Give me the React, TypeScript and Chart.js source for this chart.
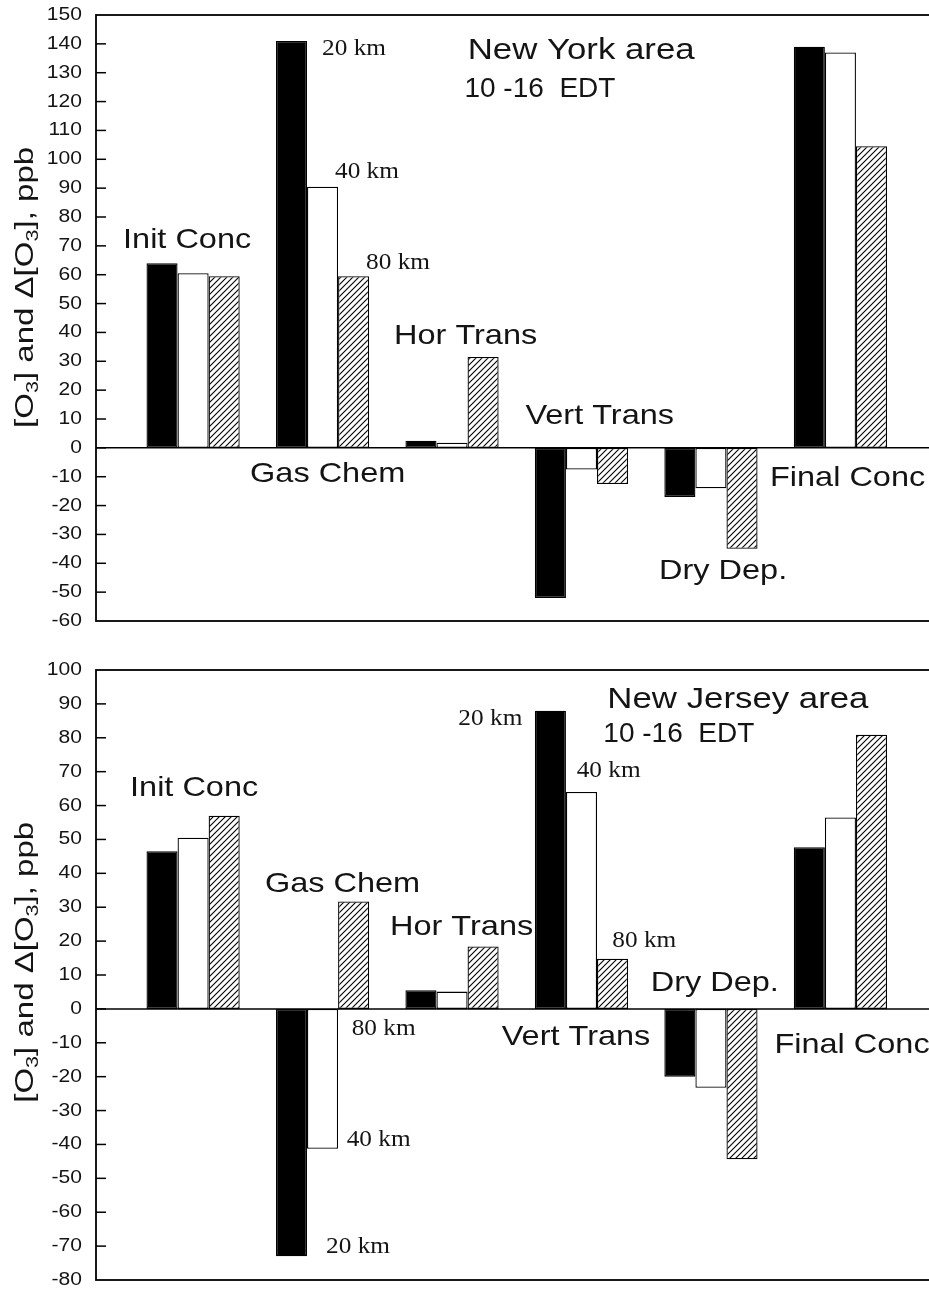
import React, { useEffect, useRef } from 'react';
import { Chart, registerables } from 'chart.js';

Chart.register(...registerables);

// ---------------- data ----------------
const categories = ['Init Conc', 'Gas Chem', 'Hor Trans', 'Vert Trans', 'Dry Dep.', 'Final Conc'];
const seriesNames = ['20 km', '40 km', '80 km'];

// New York area, 10-16 EDT (ppb)
const nyKm20 = [64, 141, 2.5, -52, -17, 139];
const nyKm40 = [60.5, 90.5, 1.8, -7.5, -14, 137];
const nyKm80 = [59.5, 59.5, 31.5, -12.5, -35, 104.5];

// New Jersey area, 10-16 EDT (ppb)
const njKm20 = [46.5, -73, 5.5, 88, -20, 47.7];
const njKm40 = [50.5, -41.3, 5.1, 64, -23.3, 56.5];
const njKm80 = [57, 31.7, 18.4, 14.8, -44.4, 80.9];

const nyTicks = [-60, -50, -40, -30, -20, -10, 0, 10, 20, 30, 40, 50, 60, 70, 80, 90, 100, 110, 120, 130, 140, 150];
const njTicks = [-80, -70, -60, -50, -40, -30, -20, -10, 0, 10, 20, 30, 40, 50, 60, 70, 80, 90, 100];

const nyTitle = ['New York area', '10 -16  EDT'];
const njTitle = ['New Jersey area', '10 -16  EDT'];

// ---------------- layout / annotation placement (in data units) ----------------
type Label = { text: string; x: number; y: number; kind: 'cat' | 'title' | 'sub' | 'km' };

const nyLabels: Label[] = [
  { text: categories[0], x: 0.459, y: 69.3, kind: 'cat' },
  { text: categories[1], x: 1.44, y: -11.7, kind: 'cat' },
  { text: categories[2], x: 2.552, y: 36.0, kind: 'cat' },
  { text: categories[3], x: 3.567, y: 8.3, kind: 'cat' },
  { text: categories[4], x: 4.599, y: -45.5, kind: 'cat' },
  { text: categories[5], x: 5.456, y: -13.2, kind: 'cat' },
  { text: nyTitle[0], x: 3.121, y: 134.7, kind: 'title' },
  { text: nyTitle[1], x: 3.096, y: 121.5, kind: 'sub' },
  { text: seriesNames[0], x: 1.996, y: 136.2, kind: 'km' },
  { text: seriesNames[1], x: 2.096, y: 93.5, kind: 'km' },
  { text: seriesNames[2], x: 2.336, y: 61.9, kind: 'km' },
];

const njLabels: Label[] = [
  { text: categories[0], x: 0.513, y: 62.9, kind: 'cat' },
  { text: categories[1], x: 1.555, y: 34.6, kind: 'cat' },
  { text: categories[2], x: 2.521, y: 21.8, kind: 'cat' },
  { text: categories[3], x: 3.384, y: -10.6, kind: 'cat' },
  { text: categories[4], x: 4.535, y: 5.3, kind: 'cat' },
  { text: categories[5], x: 5.49, y: -12.9, kind: 'cat' },
  { text: njTitle[0], x: 4.2, y: 88.7, kind: 'title' },
  { text: njTitle[1], x: 4.169, y: 78.9, kind: 'sub' },
  { text: seriesNames[0], x: 3.049, y: 83.8, kind: 'km' },
  { text: seriesNames[1], x: 3.963, y: 68.4, kind: 'km' },
  { text: seriesNames[2], x: 4.238, y: 18.4, kind: 'km' },
  { text: seriesNames[2], x: 2.225, y: -7.7, kind: 'km' },
  { text: seriesNames[1], x: 2.186, y: -40.6, kind: 'km' },
  { text: seriesNames[0], x: 2.027, y: -71.9, kind: 'km' },
];

const SANS = '"Liberation Sans", Arial, Helvetica, sans-serif';
const SERIF = '"Liberation Serif", "Times New Roman", serif';
const TEXT = '#141414';

const labelStyle: Record<string, { font: string; sx: number }> = {
  cat: { font: `28px ${SANS}`, sx: 1.16 },
  title: { font: `30px ${SANS}`, sx: 1.16 },
  sub: { font: `28px ${SANS}`, sx: 1.0 },
  km: { font: `23px ${SERIF}`, sx: 1.1 },
};

function drawText(ctx: CanvasRenderingContext2D, text: string, x: number, y: number, font: string, sx: number, align: CanvasTextAlign = 'left', baseline: CanvasTextBaseline = 'alphabetic') {
  ctx.save();
  ctx.font = font;
  ctx.fillStyle = TEXT;
  ctx.textAlign = align;
  ctx.textBaseline = baseline;
  ctx.translate(x, y);
  ctx.scale(sx, 1);
  ctx.fillText(text, 0, 0);
  ctx.restore();
}

function drawYTitle(ctx: CanvasRenderingContext2D, baseX: number, startY: number, endY: number) {
  const size = 26;
  const parts: [string, boolean][] = [['[O', false], ['3', true], ['] and \u0394[O', false], ['3', true], ['], ppb', false]];
  const nf = `${size}px ${SANS}`;
  const sf = `${Math.round(size * 0.64)}px ${SANS}`;
  let total = 0;
  const widths = parts.map(([t, sub]) => {
    ctx.font = sub ? sf : nf;
    const w = ctx.measureText(t).width;
    total += w;
    return w;
  });
  const sx = (startY - endY) / total;
  ctx.save();
  ctx.fillStyle = TEXT;
  ctx.textAlign = 'left';
  ctx.textBaseline = 'alphabetic';
  ctx.translate(baseX, startY);
  ctx.rotate(-Math.PI / 2);
  ctx.scale(sx, 1);
  let x = 0;
  parts.forEach(([t, sub], i) => {
    ctx.font = sub ? sf : nf;
    ctx.fillText(t, x, sub ? size * 0.2 : 0);
    x += widths[i];
  });
  ctx.restore();
}

type Panel = {
  series: number[][];
  ticks: number[];
  padTop: number;
  padBottom: number;
  height: number;
  labels: Label[];
  titleFrom: number;
  titleTo: number;
};

const nyPanel: Panel = { series: [nyKm20, nyKm40, nyKm80], ticks: nyTicks, padTop: 15, padBottom: 19, height: 640, labels: nyLabels, titleFrom: 6.9, titleTo: 104.3 };
const njPanel: Panel = { series: [njKm20, njKm40, njKm80], ticks: njTicks, padTop: 30, padBottom: 11, height: 651, labels: njLabels, titleFrom: -27.7, titleTo: 55.2 };

const CANVAS_W = 960;

function makeHatch(ctx: CanvasRenderingContext2D): CanvasPattern | string {
  const tile = document.createElement('canvas');
  tile.width = 6;
  tile.height = 6;
  const t = tile.getContext('2d');
  if (!t) return '#888';
  t.fillStyle = '#fff';
  t.fillRect(0, 0, 6, 6);
  t.strokeStyle = '#000';
  t.lineWidth = 1.1;
  t.beginPath();
  t.moveTo(0, 6);
  t.lineTo(6, 0);
  t.moveTo(-1, 1);
  t.lineTo(1, -1);
  t.moveTo(5, 7);
  t.lineTo(7, 5);
  t.stroke();
  return ctx.createPattern(tile, 'repeat') || '#888';
}

function buildChart(canvas: HTMLCanvasElement, panel: Panel): Chart {
  const ctx = canvas.getContext('2d') as CanvasRenderingContext2D;
  const hatch = makeHatch(ctx);
  const fills = ['#000', '#fff', hatch];
  const yMin = panel.ticks[0];
  const yMax = panel.ticks[panel.ticks.length - 1];

  const decor = {
    id: 'decor',
    afterDatasetsDraw(chart: any) {
      const c: CanvasRenderingContext2D = chart.ctx;
      const a = chart.chartArea;
      const xs = chart.scales.x;
      const ys = chart.scales.y;
      c.save();
      c.strokeStyle = '#000';
      // zero line
      c.lineWidth = 1.5;
      const y0 = ys.getPixelForValue(0);
      c.beginPath();
      c.moveTo(a.left, y0);
      c.lineTo(a.right, y0);
      c.stroke();
      // frame
      c.lineWidth = 1.8;
      c.strokeRect(a.left, a.top, a.right - a.left, a.bottom - a.top);
      // ticks (inward) and labels
      c.lineWidth = 1.5;
      panel.ticks.forEach((t) => {
        const py = ys.getPixelForValue(t);
        if (t !== yMin && t !== yMax) {
          c.beginPath();
          c.moveTo(a.left, py);
          c.lineTo(a.left + 10, py);
          c.stroke();
        }
        drawText(c, String(t), a.left - 14, py, `18px ${SANS}`, 1.17, 'right', 'middle');
      });
      c.restore();
      // y axis title
      drawYTitle(c, 32.5, ys.getPixelForValue(panel.titleFrom), ys.getPixelForValue(panel.titleTo));
      // annotations
      panel.labels.forEach((l) => {
        const st = labelStyle[l.kind];
        drawText(c, l.text, xs.getPixelForValue(l.x), ys.getPixelForValue(l.y), st.font, st.sx);
      });
    },
  };

  return new Chart(canvas, {
    type: 'bar',
    data: {
      datasets: panel.series.map((vals, si) => ({
        label: seriesNames[si],
        data: vals.map((v, i) => ({ x: i + 1, y: v })),
        backgroundColor: fills[si] as any,
        borderColor: '#000',
        borderWidth: 1.3,
        borderSkipped: false,
        categoryPercentage: 0.72,
        barPercentage: 1,
      })),
    },
    options: {
      responsive: false,
      animation: false,
      events: [],
      layout: { padding: { left: 96, right: CANVAS_W - 937.5, top: panel.padTop, bottom: panel.padBottom } },
      plugins: { legend: { display: false }, tooltip: { enabled: false }, title: { display: false } },
      scales: {
        x: { type: 'linear', min: 0.25, max: 6.75, display: false, offset: false, ticks: { stepSize: 1, includeBounds: false } },
        y: { type: 'linear', min: yMin, max: yMax, display: false },
      },
    },
    plugins: [decor],
  } as any);
}

function PanelCanvas({ panel, top }: { panel: Panel; top: number }) {
  const ref = useRef<HTMLCanvasElement | null>(null);
  useEffect(() => {
    if (!ref.current) return;
    const chart = buildChart(ref.current, panel);
    return () => chart.destroy();
  }, [panel]);
  return (
    <canvas
      ref={ref}
      width={CANVAS_W}
      height={panel.height}
      style={{ position: 'absolute', left: 0, top, width: CANVAS_W, height: panel.height, display: 'block' }}
    />
  );
}

export default function App() {
  return (
    <div style={{ position: 'fixed', left: 0, top: 0, width: 929, height: 1291, overflow: 'hidden', background: '#fff' }}>
      <PanelCanvas panel={nyPanel} top={0} />
      <PanelCanvas panel={njPanel} top={640} />
    </div>
  );
}
